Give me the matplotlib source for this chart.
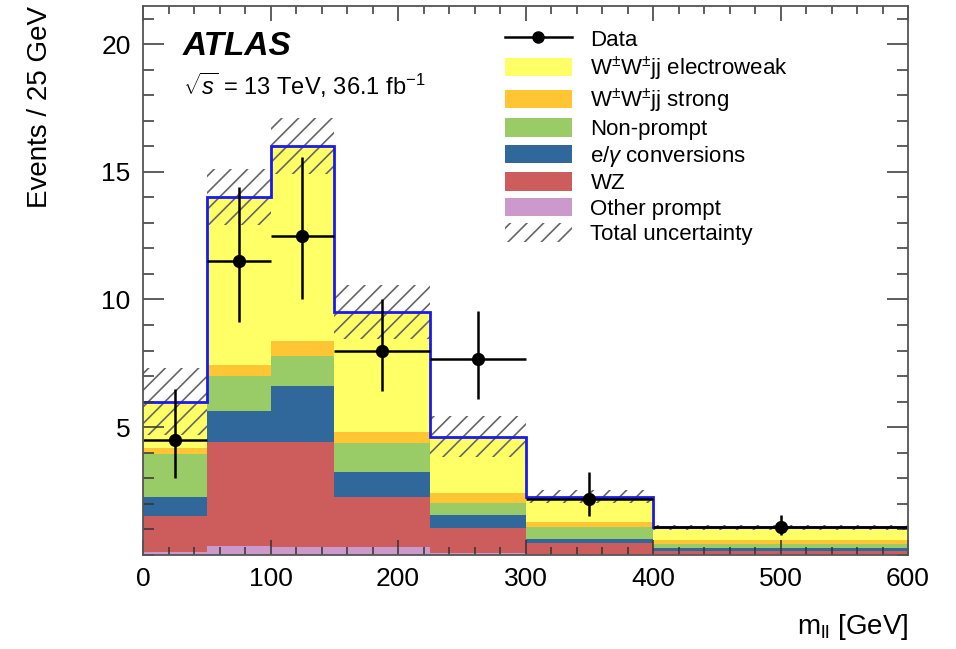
import numpy as np
import matplotlib
matplotlib.use("Agg")
import matplotlib.pyplot as plt
from matplotlib.patches import Patch
from matplotlib.lines import Line2D

########  data  ########

edges = [0, 50, 100, 150, 225, 300, 400, 600]

other_prompt = [0.12, 0.35, 0.30, 0.30, 0.05, 0.03, 0.02]
wz = [1.41, 4.05, 4.10, 1.97, 0.98, 0.42, 0.14]
conversions = [0.74, 1.24, 2.21, 0.98, 0.52, 0.15, 0.09]
non_prompt = [1.66, 1.36, 1.17, 1.11, 0.46, 0.50, 0.17]
wwjj_strong = [0.26, 0.43, 0.60, 0.46, 0.39, 0.19, 0.16]
wwjj_ewk = [1.81, 6.57, 7.62, 4.68, 2.22, 0.98, 0.49]
total_unc = [1.30, 1.10, 1.10, 1.05, 0.80, 0.25, 0.10]

data_y = [4.5, 11.5, 12.5, 8.0, 7.65, 2.2, 1.07]
data_up = [2.0, 2.9, 3.07, 2.0, 1.9, 1.05, 0.5]
data_down = [1.5, 2.4, 2.5, 1.6, 1.55, 0.7, 0.3]

labels = ["Other prompt", "WZ", "e/$\\gamma$ conversions", "Non-prompt",
          "W$^{\\pm}$W$^{\\pm}$jj strong", "W$^{\\pm}$W$^{\\pm}$jj electroweak"]
colors = ["#cc99cc", "#cd5c5c", "#30689b", "#99cc66", "#ffc533", "#ffff66"]

########  plot  ########

plt.rcParams["font.family"] = ["Liberation Sans", "DejaVu Sans"]
plt.rcParams["mathtext.fontset"] = "custom"
plt.rcParams["mathtext.rm"] = "Liberation Sans"
plt.rcParams["mathtext.it"] = "Liberation Sans:italic"
plt.rcParams["hatch.linewidth"] = 1.2

fig = plt.figure(figsize=(9.56, 6.49), dpi=100)
ax = fig.add_axes([0.1496, 0.1453, 0.8002, 0.8455])

edges = np.array(edges, dtype=float)
widths = np.diff(edges)
centers = edges[:-1] + widths / 2

stack = [other_prompt, wz, conversions, non_prompt, wwjj_strong, wwjj_ewk]
bottom = np.zeros(len(widths))
for vals, col in zip(stack, colors):
    ax.bar(edges[:-1], vals, width=widths, bottom=bottom, align="edge",
           color=col, linewidth=0)
    bottom = bottom + np.array(vals)
total = bottom

unc = np.array(total_unc)
ax.bar(edges[:-1], 2 * unc, width=widths, bottom=total - unc, align="edge",
       facecolor="none", edgecolor="#666666", hatch="//", linewidth=0)

ax.stairs(total, edges, color="#1a1aee", linewidth=2, baseline=None)

ax.errorbar(centers, data_y, yerr=[data_down, data_up], xerr=widths / 2,
            fmt="o", color="black", markersize=8.5, elinewidth=1.8, capsize=0)

ax.set_xlim(0, 600)
ax.set_ylim(0, 21.5)
ax.set_xticks(range(0, 601, 100))
ax.set_xticks(range(0, 601, 20), minor=True)
ax.set_yticks([5, 10, 15, 20])
ax.set_yticks(range(0, 22), minor=True)
ax.tick_params(axis="both", which="both", direction="in", top=True, right=True,
               labelsize=19, width=1.1, color="#333333")
ax.tick_params(axis="x", which="major", length=11, pad=9)
ax.tick_params(axis="x", which="minor", length=6)
ax.tick_params(axis="y", which="major", length=15, pad=9)
ax.tick_params(axis="y", which="minor", length=8)
for s in ax.spines.values():
    s.set_linewidth(1.3)
    s.set_color("#555555")

ax.set_xlabel("m$_{\\rm ll}$ [GeV]", fontsize=20, loc="right")
ax.xaxis.set_label_coords(1.0, -0.105)
ax.set_ylabel("Events / 25 GeV", fontsize=20, loc="top")
ax.yaxis.set_label_coords(-0.118, 1.0)

ax.text(0.052, 0.927, "ATLAS", transform=ax.transAxes, fontsize=24,
        fontweight="bold", fontstyle="italic", va="center")
ax.text(0.052, 0.855, "$\\sqrt{s}$ = 13 TeV, 36.1 fb$^{-1}$", transform=ax.transAxes,
        fontsize=17, va="center")

handles = [Line2D([], [], color="black", marker="o", markersize=8, linewidth=1.8)]
names = ["Data"]
for lab, col in zip(labels[::-1], colors[::-1]):
    handles.append(Patch(facecolor=col, linewidth=0))
    names.append(lab)
handles.append(Patch(facecolor="none", edgecolor="#666666", hatch="//", linewidth=0))
names.append("Total uncertainty")

ax.legend(handles, names, loc="upper left", bbox_to_anchor=(0.473, 0.958),
          frameon=False, fontsize=16, handlelength=3.0, handleheight=0.9,
          handletextpad=0.85, labelspacing=0.16, borderpad=0, borderaxespad=0)

plt.savefig("out.png", dpi=100)
plt.close()
